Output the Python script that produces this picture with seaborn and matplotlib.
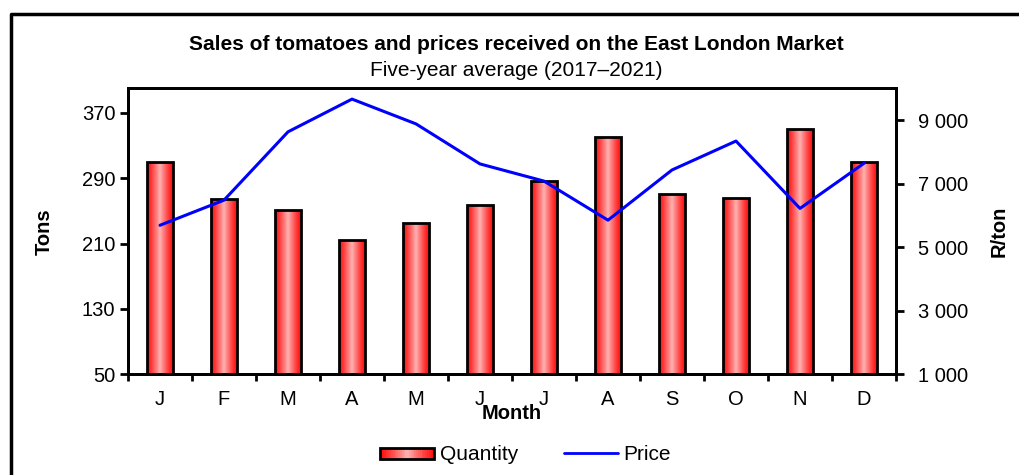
import numpy as np
import pandas as pd
import matplotlib
matplotlib.use("Agg")
import matplotlib.pyplot as plt
import seaborn as sns
from matplotlib.legend_handler import HandlerBase
from matplotlib.patches import Rectangle
from matplotlib.lines import Line2D
from matplotlib.ticker import FuncFormatter, FixedLocator

months = ["J", "F", "M", "A", "M", "J", "J", "A", "S", "O", "N", "D"]
quantity = [310, 265, 251, 214, 235, 257, 287, 341, 271, 266, 350, 310]
price = [5690, 6480, 8630, 9660, 8880, 7620, 7080, 5850, 7430, 8340, 6220, 7640]

sns.set_theme(style="white")
plt.rcParams["font.family"] = ["Liberation Sans", "DejaVu Sans"]
plt.rcParams["text.color"] = "black"
plt.rcParams["axes.labelcolor"] = "black"
plt.rcParams["xtick.color"] = "black"
plt.rcParams["ytick.color"] = "black"

df = pd.DataFrame({"pos": np.arange(len(months)), "Quantity": quantity, "Price": price})

fig = plt.figure(figsize=(10.2, 4.75), dpi=100)
ax = fig.add_axes([128 / 1020, 1 - 374.3 / 475, (896 - 128) / 1020, (374.3 - 88.3) / 475])

sns.barplot(data=df, x="pos", y="Quantity", ax=ax, width=0.4, color="red",
            edgecolor="black", linewidth=2, saturation=1)

ymin, ymax = 50, 400
grad = np.linspace(0, 1, 256)
prof = 1 - np.abs(grad - 0.5) * 2
edge_c = np.array([1.0, 0.05, 0.05])
mid_c = np.array([1.0, 0.70, 0.70])
img = edge_c[None, :] + (mid_c - edge_c)[None, :] * prof[:, None] ** 1.2
img = img[None, :, :]
for p in ax.patches:
    x0 = p.get_x()
    w, h = p.get_width(), p.get_height()
    im = ax.imshow(img, extent=[x0, x0 + w, ymin, p.get_y() + h], aspect="auto", zorder=1.5,
                   interpolation="bilinear")
    im.set_clip_path(p)
    p.set_facecolor("none")
    p.set_zorder(2)

ax.set_xlim(-0.5, len(months) - 0.5)
ax.set_ylim(ymin, ymax)
ax.set_yticks(np.arange(50, 371, 80))
ax.set_xticks(np.arange(len(months)))
ax.set_xticklabels(months)
ax.xaxis.set_minor_locator(FixedLocator(np.arange(-0.5, len(months), 1.0)))
ax.tick_params(axis="x", which="major", length=0, labelsize=14.5, pad=11)
ax.tick_params(axis="x", which="minor", length=5, width=2, direction="out", bottom=True)
ax.tick_params(axis="y", which="major", length=6, width=2, direction="out", labelsize=14.5, left=True, pad=3)
ax.set_xlabel("Month", fontsize=14.5, fontweight="bold", labelpad=-3)
ax.set_ylabel("Tons", fontsize=14.5, fontweight="bold", labelpad=20)
for s in ax.spines.values():
    s.set_visible(True)
    s.set_color("black")
    s.set_linewidth(2)

ax2 = ax.twinx()
sns.lineplot(data=df, x="pos", y="Price", ax=ax2, color="#0000FF", linewidth=2.2)
ax2.set_ylim(1000, 10000)
ax2.set_yticks(np.arange(1000, 9001, 2000))
ax2.yaxis.set_major_formatter(FuncFormatter(lambda v, _: f"{int(v):,}".replace(",", " ")))
ax2.tick_params(axis="y", which="major", length=6, width=2, direction="out", labelsize=14.5, right=True, pad=10)
ax2.set_ylabel("R/ton", fontsize=14.5, fontweight="bold", labelpad=15)
ax2.set_xlim(-0.5, len(months) - 0.5)
for s in ax2.spines.values():
    s.set_visible(True)
    s.set_color("black")
    s.set_linewidth(2)

fig.text(0.506, 1 - 45 / 475, "Sales of tomatoes and prices received on the East London Market",
         ha="center", va="center", fontsize=15, fontweight="bold")
fig.text(0.506, 1 - 70 / 475, "Five-year average (2017\u20132021)",
         ha="center", va="center", fontsize=15)

fig.add_artist(Line2D([11 / 1020, 11 / 1020, 1.0], [0.0, 1 - 14 / 475, 1 - 14 / 475],
                      transform=fig.transFigure, color="black", linewidth=2.5))


class GradientHandler(HandlerBase):
    def create_artists(self, legend, orig_handle, xdescent, ydescent, width, height, fontsize, trans):
        arts = []
        n = 30
        y0 = -ydescent + height * 0.1
        hh = height * 0.75
        for i in range(n):
            t = (i + 0.5) / n
            pr = (1 - abs(t - 0.5) * 2) ** 1.2
            c = edge_c + (mid_c - edge_c) * pr
            arts.append(Rectangle((-xdescent + width * i / n, y0), width / n + 0.3, hh,
                                  facecolor=c, edgecolor="none", transform=trans))
        arts.append(Rectangle((-xdescent, y0), width, hh, facecolor="none",
                              edgecolor="black", linewidth=2, transform=trans))
        return arts


qh = Rectangle((0, 0), 1, 1)
ph = Line2D([0], [0], color="#0000FF", linewidth=2)
fig.legend([qh, ph], ["Quantity", "Price"], handler_map={Rectangle: GradientHandler()},
           loc="center", bbox_to_anchor=(0.515, 1 - 455 / 475), ncol=2, frameon=False,
           fontsize=15, handlelength=2.6, columnspacing=2.2, handletextpad=0.25)

fig.savefig("out.png", dpi=100)
